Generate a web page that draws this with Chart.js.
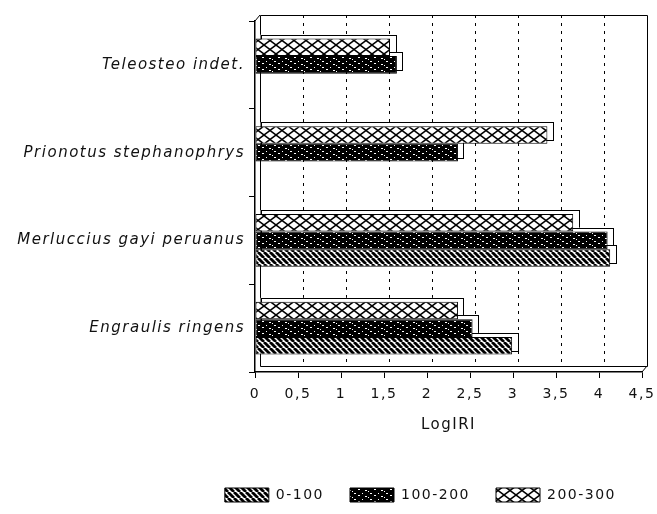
<!DOCTYPE html>
<html>
<head>
<meta charset="utf-8">
<script src="https://cdn.jsdelivr.net/npm/chart.js@4"></script>
<style>
  html, body { margin: 0; padding: 0; background: #fff; }
  #wrap { width: 657px; height: 514px; }
</style>
</head>
<body>
<div id="wrap"><canvas id="chart" width="657" height="514"></canvas></div>
<script>
// Species and depth strata (m)
const categories = ['Teleosteo indet.', 'Prionotus stephanophrys', 'Merluccius gayi peruanus', 'Engraulis ringens'];
const seriesNames = ['0-100', '100-200', '200-300'];

// LogIRI per species and depth stratum (null = not recorded)
const logIRI_0_100   = [null, null, 4.13, 2.99];
const logIRI_100_200 = [1.65, 2.36, 4.10, 2.53];
const logIRI_200_300 = [1.57, 3.40, 3.70, 2.36];

const xTickLabels = ['0', '0,5', '1', '1,5', '2', '2,5', '3', '3,5', '4', '4,5'];
const xAxisTitle = 'LogIRI';

const FONT = '"DejaVu Sans", "Liberation Sans", Arial, sans-serif';
const INK = '#111';

// ---- fill patterns ----
function makePattern(w, h, paint) {
  const cv = document.createElement('canvas');
  cv.width = w; cv.height = h;
  const g = cv.getContext('2d');
  paint(g, w, h);
  return g.createPattern(cv, 'repeat');
}

// diagonal hatch
const hatchFill = makePattern(6, 6, (g, w, h) => {
  g.fillStyle = '#fff'; g.fillRect(0, 0, w, h);
  g.strokeStyle = '#000'; g.lineWidth = 2.8;
  for (let k = -w; k <= w; k += w) {
    g.beginPath(); g.moveTo(k, 0); g.lineTo(k + w, h); g.stroke();
  }
});

// near-solid dark with light flecks
const darkFill = makePattern(16, 6, (g, w, h) => {
  g.fillStyle = '#000'; g.fillRect(0, 0, w, h);
  g.fillStyle = '#fff';
  [[2, 1, 2, 1], [10, 1, 1, 1], [6, 3, 2, 1], [13, 4, 2, 1], [0, 5, 1, 1]]
    .forEach(r => g.fillRect(r[0], r[1], r[2], r[3]));
});

// open diamond lattice
const latticeFill = makePattern(12, 9, (g, w, h) => {
  g.fillStyle = '#fff'; g.fillRect(0, 0, w, h);
  g.strokeStyle = '#000'; g.lineWidth = 1.5;
  g.beginPath();
  g.moveTo(0, 0); g.lineTo(w, h);
  g.moveTo(w, 0); g.lineTo(0, h);
  g.stroke();
});

// ---- 3D look ----
const WALL_DX = 5, WALL_DY = 6;   // back wall offset
const BAR_DX = 5, BAR_DY = 4;     // bar depth offset

const textSpacing = {
  id: 'textSpacing',
  beforeUpdate(chart) { chart.ctx.letterSpacing = '1.5px'; },
  beforeDraw(chart) { chart.ctx.letterSpacing = '1.5px'; }
};

const backWall = {
  id: 'backWall',
  beforeDatasetsDraw(chart) {
    const { ctx, chartArea: a, scales: { x } } = chart;
    ctx.save();
    ctx.strokeStyle = '#000';
    ctx.lineWidth = 1;
    const L = a.left + WALL_DX, T = a.top - WALL_DY, R = a.right + WALL_DX, B = a.bottom - WALL_DY;
    ctx.beginPath();
    ctx.rect(Math.round(L) + 0.5, Math.round(T) + 0.5, Math.round(R - L), Math.round(B - T));
    ctx.moveTo(a.left, a.top); ctx.lineTo(L, T);
    ctx.moveTo(a.right, a.bottom); ctx.lineTo(R, B);
    ctx.stroke();
    ctx.setLineDash([3, 5]);
    x.ticks.forEach(t => {
      if (t.value <= x.min || t.value >= x.max) return;
      const px = Math.round(x.getPixelForValue(t.value) + WALL_DX) + 0.5;
      ctx.beginPath(); ctx.moveTo(px, T); ctx.lineTo(px, B); ctx.stroke();
    });
    ctx.restore();
  }
};

const barDepth = {
  id: 'barDepth',
  beforeDatasetsDraw(chart) {
    const ctx = chart.ctx;
    ctx.save();
    ctx.fillStyle = '#fff';
    ctx.strokeStyle = '#000';
    ctx.lineWidth = 1;
    chart.data.datasets.forEach((ds, di) => {
      const meta = chart.getDatasetMeta(di);
      meta.data.forEach((el, i) => {
        if (ds.data[i] == null) return;
        const p = el.getProps(['x', 'y', 'base', 'height'], true);
        const left = Math.min(p.base, p.x), right = Math.max(p.base, p.x);
        const top = p.y - p.height / 2;
        ctx.fillRect(left + BAR_DX, top - BAR_DY, right - left, p.height);
        ctx.strokeRect(Math.round(left + BAR_DX) + 0.5, Math.round(top - BAR_DY) + 0.5, Math.round(right - left), Math.round(p.height));
      });
    });
    ctx.restore();
  }
};

const canvas = document.getElementById('chart');
canvas.getContext('2d').letterSpacing = '1.5px';

new Chart(canvas, {
  type: 'bar',
  data: {
    labels: categories,
    datasets: [
      { label: seriesNames[2], data: logIRI_200_300, backgroundColor: latticeFill },
      { label: seriesNames[1], data: logIRI_100_200, backgroundColor: darkFill },
      { label: seriesNames[0], data: logIRI_0_100, backgroundColor: hatchFill }
    ]
  },
  options: {
    indexAxis: 'y',
    responsive: false,
    animation: false,
    devicePixelRatio: 1,
    events: [],
    layout: { padding: { top: 21, right: 15, bottom: 2, left: 0 } },
    datasets: {
      bar: {
        categoryPercentage: 0.6,
        barPercentage: 1,
        borderColor: '#000',
        borderWidth: 1,
        borderSkipped: false
      }
    },
    scales: {
      x: {
        min: 0,
        max: 4.5,
        ticks: {
          stepSize: 0.5,
          autoSkip: false,
          maxRotation: 0,
          padding: 8,
          color: INK,
          font: { family: FONT, size: 14 },
          callback: (v, i) => xTickLabels[i]
        },
        grid: { drawOnChartArea: false, drawTicks: true, tickLength: 6, color: '#000', lineWidth: 1 },
        border: { display: true, color: '#000', width: 1.5 },
        title: {
          display: true,
          text: xAxisTitle,
          color: INK,
          font: { family: FONT, size: 15 },
          padding: { top: 4, bottom: 28 }
        },
        afterFit: s => { s.height = 90; s.paddingLeft = 0; s.paddingRight = 0; }
      },
      y: {
        ticks: {
          padding: 4,
          color: INK,
          font: { family: FONT, size: 15, style: 'italic' }
        },
        grid: { drawOnChartArea: false, drawTicks: true, tickLength: 6, color: '#000', offset: true },
        border: { display: true, color: '#000', width: 1.5 },
        afterFit: s => { s.width = 255; s.paddingTop = 0; s.paddingBottom = 0; }
      }
    },
    plugins: {
      legend: {
        position: 'bottom',
        align: 'end',
        reverse: true,
        labels: {
          boxWidth: 44,
          boxHeight: 14,
          padding: 26,
          color: INK,
          font: { family: FONT, size: 14 }
        }
      },
      tooltip: { enabled: false }
    }
  },
  plugins: [textSpacing, backWall, barDepth]
});
</script>
</body>
</html>
